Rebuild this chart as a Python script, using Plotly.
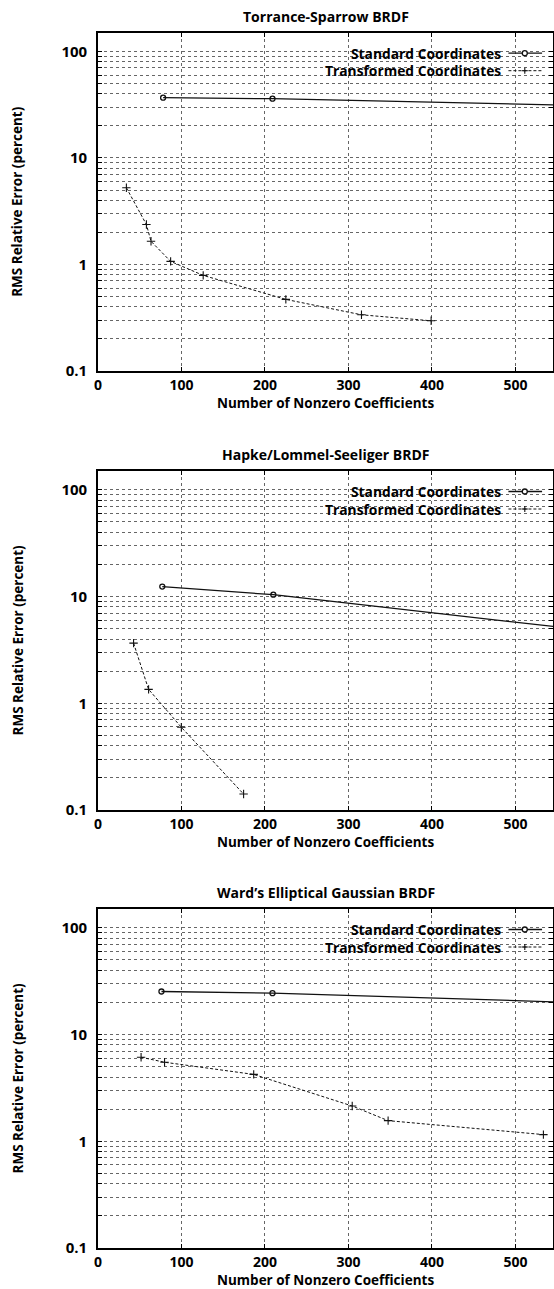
import math
import plotly.graph_objects as go

# ---------------- data ----------------
titles = ["Torrance-Sparrow BRDF", "Hapke/Lommel-Seeliger BRDF", "Ward\u2019s Elliptical Gaussian BRDF"]
series_names = ["Standard Coordinates", "Transformed Coordinates"]

ts_std_x = [78, 209, 700]
ts_std_y = [36.8, 36.0, 29.6]
ts_tr_x = [34, 58, 63.5, 87, 126, 225, 315.6, 399]
ts_tr_y = [5.25, 2.37, 1.65, 1.07, 0.79, 0.47, 0.337, 0.296]

hl_std_x = [77, 210, 700]
hl_std_y = [12.4, 10.4, 3.82]
hl_tr_x = [42.6, 60.6, 99.8, 174.4]
hl_tr_y = [3.66, 1.35, 0.596, 0.141]

wg_std_x = [76, 209, 700]
wg_std_y = [25.3, 24.4, 18.6]
wg_tr_x = [51.6, 79.7, 186.5, 304.5, 347.5, 533.5]
wg_tr_y = [6.13, 5.5, 4.23, 2.14, 1.56, 1.155]

x_tick_vals = [0, 100, 200, 300, 400, 500]
x_tick_text = ["0", "100", "200", "300", "400", "500"]
decades = [0.1, 1, 10, 100]
decade_text = ["0.1", "1", "10", "100"]
x_title = "Number of Nonzero Coefficients"
y_title = "RMS Relative Error (percent)"

panels = [
    (ts_std_x, ts_std_y, ts_tr_x, ts_tr_y),
    (hl_std_x, hl_std_y, hl_tr_x, hl_tr_y),
    (wg_std_x, wg_std_y, wg_tr_x, wg_tr_y),
]

# ---------------- layout geometry ----------------
W, H = 554, 1289
ML, MR = 98, 1
plot_px = [(32.7, 371.0), (471.0, 810.0), (909.0, 1248.0)]  # top, bottom in pixels

FONT = "'Open Sans', Lato, sans-serif"

y_tick_vals = []
y_tick_text = []
for d, t in zip(decades, decade_text):
    for m in range(1, 10):
        v = d * m
        if v > 150:
            break
        y_tick_vals.append(v)
        y_tick_text.append(t if m == 1 else "")
        if d == 100:
            break

fig = go.Figure()
annotations = []
shapes = []

for i, (sx, sy, tx, ty) in enumerate(panels):
    n = "" if i == 0 else str(i + 1)
    xa, ya = "x" + n, "y" + n
    fig.add_trace(go.Scatter(
        x=sx, y=sy, xaxis=xa, yaxis=ya, mode="lines+markers", name=series_names[0],
        line=dict(color="#111", width=1.3),
        marker=dict(symbol="circle-open", size=5, color="#111", line=dict(width=1.3)),
    ))
    fig.add_trace(go.Scatter(
        x=tx, y=ty, xaxis=xa, yaxis=ya, mode="lines+markers", name=series_names[1],
        line=dict(color="#111", width=1, dash="3px,2px"),
        marker=dict(symbol="cross-thin-open", size=6, color="#111", line=dict(width=1.1, color="#111")),
    ))

    top, bot = plot_px[i]
    dom = [1 - bot / H, 1 - top / H]
    axis_common = dict(
        ticks="inside", ticklen=4, tickcolor="black", tickwidth=1,
        showline=True, linecolor="black", linewidth=1.6, mirror="allticks",
        showgrid=True, gridcolor="#666", griddash="dot", gridwidth=1,
        zeroline=False, automargin=False,
    )
    fig.update_layout(**{
        ("xaxis" + n): dict(domain=[0, 1], anchor=ya, range=[0, 545],
                            tickvals=x_tick_vals, ticktext=x_tick_text,
                            ticklabelstandoff=0,
                            tickfont=dict(family=FONT, size=14, color="black", weight="bold"),
                            **axis_common),
        ("yaxis" + n): dict(domain=dom, anchor=xa, type="log",
                            range=[-1, math.log10(150)],
                            tickvals=y_tick_vals, ticktext=y_tick_text,
                            ticklabelstandoff=6,
                            tickfont=dict(family=FONT, size=15, color="black", weight="bold"),
                            **axis_common),
    })

    xd, yd = xa + " domain", ya + " domain"
    annotations.append(dict(text=titles[i], xref=xd, yref=yd, x=0.5, y=1, yshift=16.5,
                            xanchor="center", yanchor="middle", showarrow=False,
                            font=dict(family=FONT, size=14, color="black", weight="bold")))
    annotations.append(dict(text=x_title, xref=xd, yref=yd, x=0.5, y=0, yshift=-31.5,
                            xanchor="center", yanchor="middle", showarrow=False,
                            font=dict(family=FONT, size=13.5, color="black", weight="bold")))
    annotations.append(dict(text=y_title, xref=xd, yref=yd, x=0, xshift=-81, y=0.5,
                            xanchor="center", yanchor="middle", textangle=-90, showarrow=False,
                            font=dict(family=FONT, size=13.5, color="black", weight="bold")))
    for k, (name, dy) in enumerate(zip(series_names, [-20.5, -38.0])):
        annotations.append(dict(text=name, xref=xd, yref=yd, x=0.890, y=1, yshift=dy,
                                xanchor="right", yanchor="middle", showarrow=False,
                                font=dict(family=FONT, size=13.8, color="black", weight="bold")))
        shapes.append(dict(type="line", xref=xd, yref=yd, x0=0.902, x1=0.976,
                           ysizemode="pixel", yanchor=1, y0=dy, y1=dy,
                           line=dict(color="#111", width=1.3 if k == 0 else 1,
                                     dash="solid" if k == 0 else "3px,2px")))
        if k == 0:
            shapes.append(dict(type="circle", xref=xd, yref=yd,
                               xsizemode="pixel", xanchor=0.938, x0=-2.5, x1=2.5,
                               ysizemode="pixel", yanchor=1, y0=dy - 2.5, y1=dy + 2.5,
                               line=dict(color="#111", width=1.3), fillcolor="white"))
        else:
            shapes.append(dict(type="line", xref=xd, yref=yd,
                               xsizemode="pixel", xanchor=0.938, x0=-3, x1=3,
                               ysizemode="pixel", yanchor=1, y0=dy, y1=dy,
                               line=dict(color="#111", width=1.1)))
            shapes.append(dict(type="line", xref=xd, yref=yd,
                               xsizemode="pixel", xanchor=0.938, x0=0, x1=0,
                               ysizemode="pixel", yanchor=1, y0=dy - 3, y1=dy + 3,
                               line=dict(color="#111", width=1.1)))

fig.update_layout(
    width=W, height=H,
    margin=dict(l=ML, r=MR, t=0, b=0, autoexpand=False),
    paper_bgcolor="white", plot_bgcolor="white",
    showlegend=False,
    font=dict(family=FONT, size=14, color="black", weight="bold"),
    annotations=annotations, shapes=shapes,
)

fig.write_html("out.html", config={"displayModeBar": False},
               post_script="document.body.style.margin='0';document.body.style.overflow='hidden';")
